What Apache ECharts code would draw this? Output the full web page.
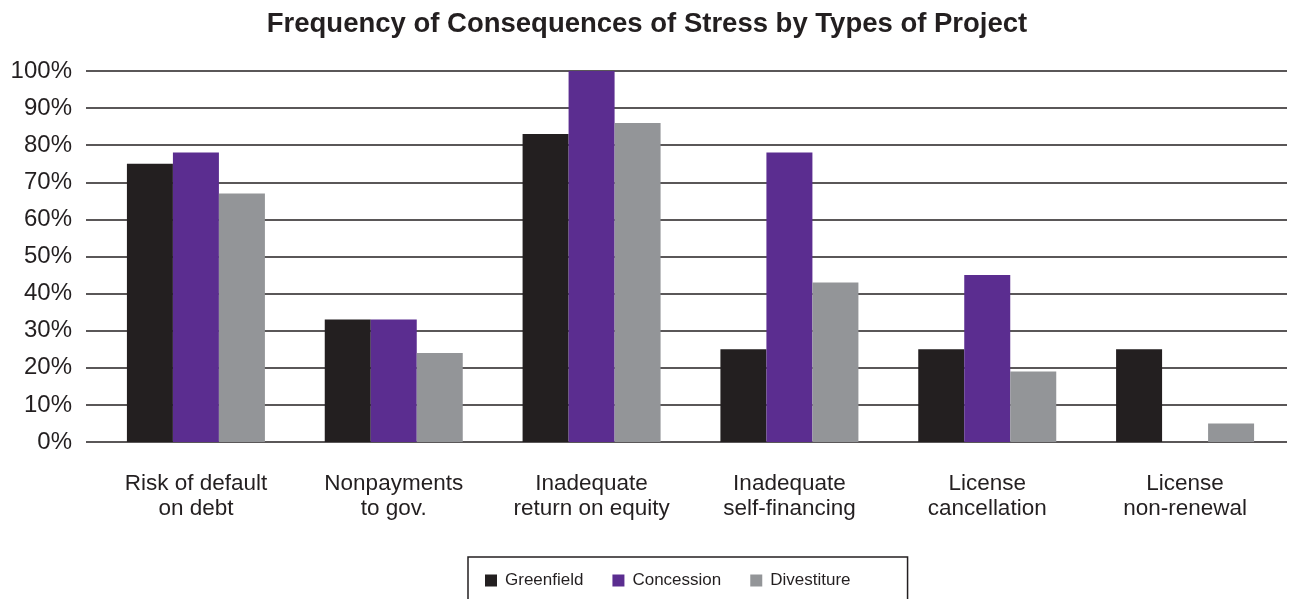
<!DOCTYPE html>
<html>
<head>
<meta charset="utf-8">
<script src="https://cdn.jsdelivr.net/npm/echarts@6/dist/echarts.min.js"></script>
<style>
  html, body { margin: 0; padding: 0; background: #fff; }
  #chart { width: 1294px; height: 599px; }
</style>
</head>
<body>
<div id="chart"></div>
<script>
// Consequences of stress, share of projects (%) by project type
const categories = [
  'Risk of default\non debt',
  'Nonpayments\nto gov.',
  'Inadequate\nreturn on equity',
  'Inadequate\nself-financing',
  'License\ncancellation',
  'License\nnon-renewal'
];
const greenfield  = [75, 33, 83, 25, 25, 25];
const concession  = [78, 33, 100, 78, 45, 0];
const divestiture = [67, 24, 86, 43, 19, 5];
const seriesNames = ['Greenfield', 'Concession', 'Divestiture'];
const colors = ['#231f20', '#5b2d90', '#939598'];

const font = '"Liberation Sans", Arial, Helvetica, sans-serif';
const ink = '#231f20';

const chart = echarts.init(document.getElementById('chart'), null, { renderer: 'canvas' });

const gridTop = 71, gridBottom = 599 - 442;

chart.setOption({
  animation: false,
  textStyle: { fontFamily: font },
  title: {
    text: 'Frequency of Consequences of Stress by Types of Project',
    left: 'center',
    top: 5,
    textStyle: { fontFamily: font, fontSize: 27.5, fontWeight: 'bold', color: ink }
  },
  legend: {
    data: seriesNames,
    left: 468,
    top: 557,
    itemWidth: 12,
    itemHeight: 12,
    itemGap: 29,
    icon: 'rect',
    padding: [15, 57, 24, 17],
    borderColor: ink,
    borderWidth: 1.5,
    textStyle: { fontFamily: font, fontSize: 17, color: ink, padding: [0, 0, 0, 3] }
  },
  grid: [
    // gridlines and value labels
    { left: 86, right: 7, top: gridTop, bottom: gridBottom },
    // bars and category labels
    { left: 97, right: 10, top: gridTop, bottom: gridBottom }
  ],
  xAxis: [
    { gridIndex: 0, type: 'value', min: 0, max: 1, show: false },
    {
      gridIndex: 1,
      type: 'category',
      data: categories,
      axisLine: { show: false },
      axisTick: { show: false },
      axisLabel: {
        interval: 0,
        hideOverlap: false,
        margin: 29,
        fontFamily: font,
        fontSize: 22.5,
        lineHeight: 25,
        color: ink
      }
    }
  ],
  yAxis: [
    {
      gridIndex: 0,
      type: 'value',
      min: 0,
      max: 100,
      interval: 10,
      axisLine: { show: false },
      axisTick: { show: false },
      axisLabel: {
        formatter: '{value}%',
        margin: 14,
        fontFamily: font,
        fontSize: 24,
        color: ink
      },
      splitLine: { lineStyle: { color: ink, width: 1.6 } }
    },
    {
      gridIndex: 1,
      type: 'value',
      min: 0,
      max: 100,
      interval: 10,
      show: false,
      splitLine: { show: false }
    }
  ],
  series: [
    { name: seriesNames[0], data: greenfield },
    { name: seriesNames[1], data: concession },
    { name: seriesNames[2], data: divestiture }
  ].map((s, i) => ({
    type: 'bar',
    name: s.name,
    data: s.data,
    xAxisIndex: 1,
    yAxisIndex: 1,
    barWidth: 46,
    barGap: '0%',
    itemStyle: { color: colors[i] }
  }))
});
</script>
</body>
</html>
